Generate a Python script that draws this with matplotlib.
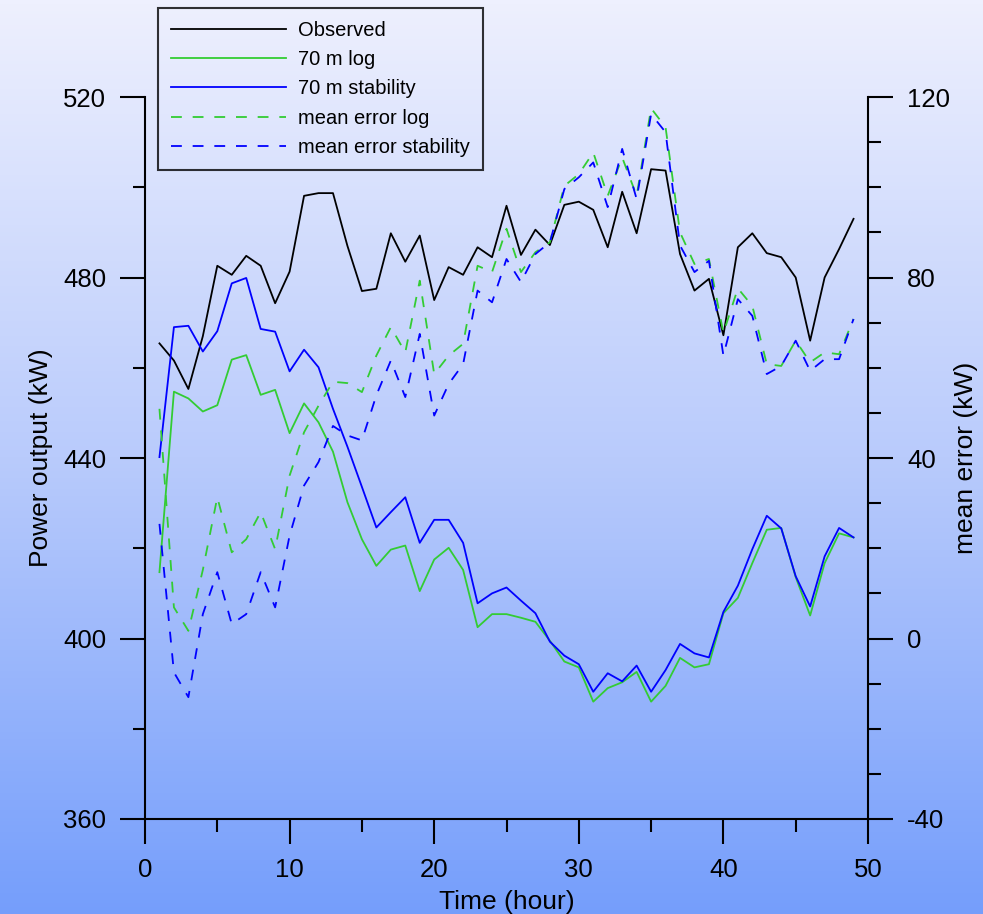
import numpy as np
import matplotlib
matplotlib.use('Agg')
import matplotlib.pyplot as plt
from matplotlib.ticker import MultipleLocator
from matplotlib.colors import LinearSegmentedColormap

plt.rcParams['font.family'] = ['Liberation Sans', 'DejaVu Sans']
plt.rcParams['axes.unicode_minus'] = False

# hourly values
hours = list(range(1, 50))

observed = [465.4, 461.6, 455.3, 467.0, 482.6, 480.6, 484.8, 482.6, 474.3, 481.3,
            498.1, 498.7, 498.7, 487.0, 477.0, 477.5, 489.8, 483.5, 489.3, 475.0,
            482.3, 480.6, 486.7, 484.5, 495.9, 485.0, 490.6, 487.2, 496.1, 496.8,
            495.0, 486.7, 499.0, 489.8, 504.0, 503.7, 485.2, 477.1, 479.7, 467.2,
            486.7, 489.8, 485.4, 484.5, 480.0, 466.0, 480.0, 486.3, 493.0]

log_70 = [414.7, 454.7, 453.2, 450.3, 451.7, 461.8, 462.8, 454.0, 455.1, 445.5,
          452.1, 447.9, 441.4, 430.2, 422.0, 416.1, 419.7, 420.6, 410.5, 417.5,
          420.1, 415.2, 402.5, 405.4, 405.4, 404.6, 403.7, 399.5, 394.9, 393.6,
          386.0, 389.0, 390.3, 392.6, 386.0, 389.5, 395.7, 393.6, 394.3, 405.6,
          409.0, 416.7, 424.1, 424.5, 413.6, 405.1, 416.7, 423.3, 422.4]

stab_70 = [440.2, 469.0, 469.3, 463.6, 468.1, 478.7, 479.9, 468.6, 468.0, 459.2,
           464.0, 460.1, 450.9, 442.5, 433.6, 424.6, 428.0, 431.3, 421.2, 426.3,
           426.3, 421.2, 407.8, 410.0, 411.3, 408.4, 405.6, 399.3, 396.2, 394.3,
           388.2, 392.3, 390.5, 394.0, 388.2, 393.0, 398.8, 396.7, 395.8, 405.9,
           411.7, 419.8, 427.2, 424.4, 413.8, 407.1, 418.2, 424.5, 422.4]

err_log = [50.9, 6.9, 1.7, 15.2, 31.3, 19.1, 22.0, 28.0, 19.8, 36.1,
           45.7, 51.6, 56.9, 56.6, 54.6, 62.7, 69.0, 63.4, 79.3, 58.6,
           62.7, 65.3, 82.6, 81.2, 90.8, 81.2, 85.6, 87.8, 100.3, 102.9,
           107.7, 98.1, 106.6, 98.1, 117.5, 113.3, 90.0, 83.0, 84.1, 67.7,
           77.6, 73.7, 60.8, 60.4, 66.0, 61.2, 63.4, 63.0, 70.8]

err_stab = [25.4, -7.5, -13.0, 5.4, 14.7, 3.2, 5.4, 14.7, 6.9, 22.8,
            33.9, 39.1, 47.1, 45.0, 43.9, 53.9, 61.6, 53.5, 67.5, 49.4,
            56.4, 60.8, 77.1, 74.5, 84.1, 79.0, 85.2, 87.8, 99.6, 102.2,
            105.5, 95.6, 108.5, 97.4, 116.2, 112.2, 87.1, 81.2, 83.7, 62.7,
            75.2, 71.5, 58.6, 60.4, 66.0, 59.3, 61.9, 61.9, 70.8]

GREEN = '#33cc33'
BLUE = '#0000ff'

W, H = 983, 914
fig = plt.figure(figsize=(W / 100, H / 100), dpi=100)

# vertical gradient background over the whole figure
bg = fig.add_axes([0, 0, 1, 1], zorder=-1)
cmap = LinearSegmentedColormap.from_list('bg', ['#eef0fe', '#b9cbfc', '#759efb'])
bg.imshow(np.linspace(0, 1, 256).reshape(-1, 1), aspect='auto', cmap=cmap,
          extent=(0, 1, 0, 1))
bg.axis('off')

ax = fig.add_axes([145 / W, (H - 819) / H, (868 - 145) / W, (819 - 97) / H], zorder=1)
ax.patch.set_visible(False)
ax2 = ax.twinx()
ax2.set_zorder(2)
ax2.patch.set_visible(False)

l1, = ax.plot(hours, observed, color='black', lw=1.3, label='Observed')
l2, = ax.plot(hours, log_70, color=GREEN, lw=1.3, label='70 m log')
l3, = ax.plot(hours, stab_70, color=BLUE, lw=1.3, label='70 m stability')
l4, = ax2.plot(hours, err_log, color=GREEN, lw=1.3, dashes=(6, 6), label='mean error log')
l5, = ax2.plot(hours, err_stab, color=BLUE, lw=1.3, dashes=(6, 6), label='mean error stability')

ax.set_xlim(0, 50)
ax.set_ylim(360, 520)
ax2.set_ylim(-40, 120)
ax.xaxis.set_major_locator(MultipleLocator(10))
ax.xaxis.set_minor_locator(MultipleLocator(5))
ax.yaxis.set_major_locator(MultipleLocator(40))
ax.yaxis.set_minor_locator(MultipleLocator(20))
ax2.yaxis.set_major_locator(MultipleLocator(40))
ax2.yaxis.set_minor_locator(MultipleLocator(10))

for a in (ax, ax2):
    a.tick_params(which='major', length=18, width=1.5, labelsize=18.5, pad=10,
                  direction='out', colors='black')
    a.tick_params(which='minor', length=9, width=1.5, direction='out')
    for s in a.spines.values():
        s.set_linewidth(1.5)
ax.spines['top'].set_visible(False)
ax.spines['right'].set_visible(False)
for side in ('top', 'left', 'bottom'):
    ax2.spines[side].set_visible(False)

ax.set_xlabel('Time (hour)', fontsize=19, labelpad=6)
ax.set_ylabel('Power output (kW)', fontsize=19, labelpad=7)
ax2.set_ylabel('mean error (kW)', fontsize=19, labelpad=3)

leg = fig.legend(handles=[l1, l2, l3, l4, l5], loc='upper left',
                 bbox_to_anchor=(158 / W, 1 - 8 / H), borderaxespad=0,
                 fontsize=14.5, frameon=True, fancybox=False, handlelength=5.7,
                 handletextpad=0.6, labelspacing=0.51, borderpad=0.64)
leg.get_frame().set_edgecolor('black')
leg.get_frame().set_facecolor('none')
leg.get_frame().set_linewidth(1.5)

fig.savefig('out.png', dpi=100)
